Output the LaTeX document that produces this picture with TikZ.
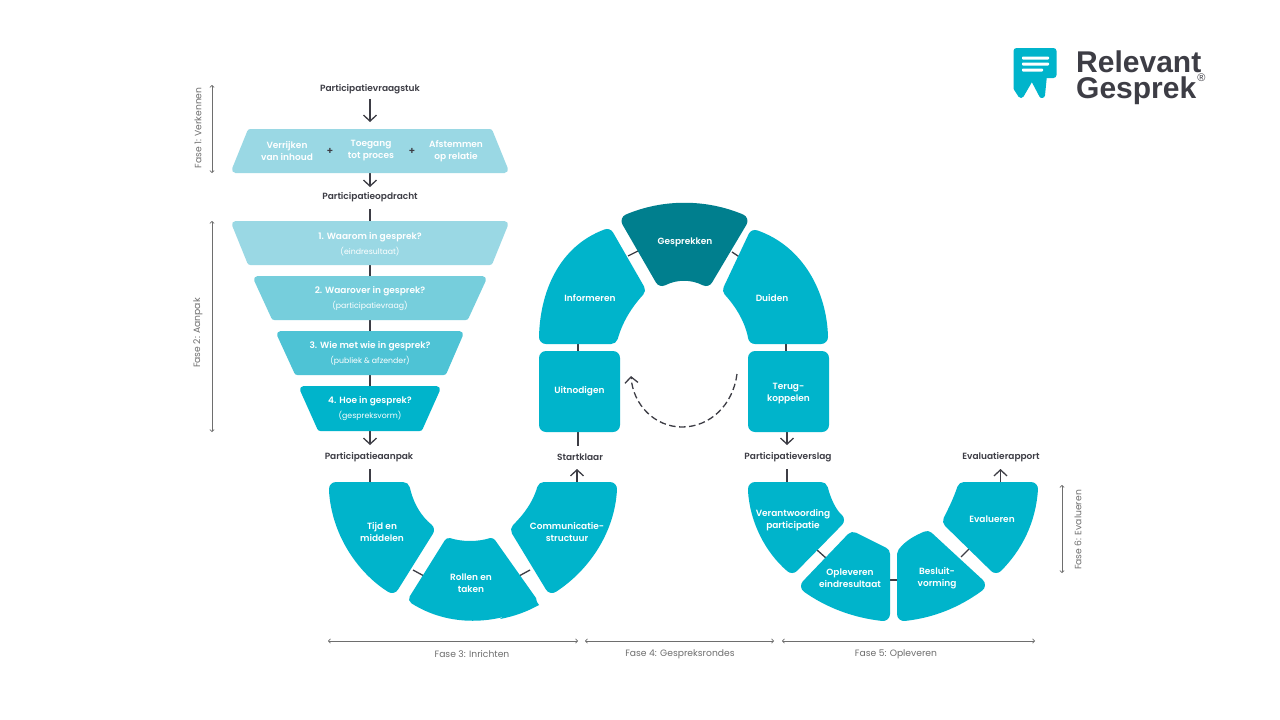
\documentclass[tikz,border=0pt]{standalone}
\usepackage{fontspec}
\setmainfont{Poppins}[BoldFont={Poppins SemiBold}]
\newfontfamily\logofont{Liberation Sans}
\usetikzlibrary{arrows.meta}
\definecolor{teal}{HTML}{00B4CB}
\definecolor{deep}{HTML}{007F8E}
\definecolor{pale}{HTML}{9AD8E4}
\definecolor{mid}{HTML}{76CEDC}
\definecolor{soft}{HTML}{4EC3D5}
\definecolor{ink}{HTML}{3D3D45}
\definecolor{phase}{HTML}{6E6E6E}
\newcommand{\subfont}{\fontsize{7.8}{11}\selectfont\mdseries}
\tikzset{
  x=1pt,y=-1pt,
  blob/.style={fill=#1,draw=#1,line width=14pt,line join=round},
  tightblob/.style={fill=#1,draw=#1,line width=10pt,line join=round},
  trapblob/.style={fill=#1,draw=#1,line width=7pt,line join=round},
  trap/.style={text=white,align=center,inner sep=0pt,font=\fontsize{9}{13}\selectfont\bfseries},
  box/.style={rectangle,rounded corners=7pt,fill=teal,minimum width=81pt,minimum height=81pt,inner sep=0pt,text=white,align=center,font=\fontsize{9}{12}\selectfont\bfseries},
  lab/.style={text=white,align=center,font=\fontsize{9}{12}\selectfont\bfseries,inner sep=0pt,yshift=-1pt},
  stage/.style={text=ink,font=\fontsize{9}{11}\selectfont\bfseries,inner sep=0pt,yshift=-1pt},
  plus/.style={text=ink,font=\fontsize{10}{10}\selectfont\bfseries,inner sep=0pt},
  phasetxt/.style={text=phase,font=\fontsize{9.2}{11}\selectfont,inner sep=0pt},
  link/.style={draw=ink,line width=1.3pt},
  flow/.style={draw=ink,line width=1.3pt,-{Straight Barb[length=6pt,width=13pt,line width=1.3pt]}},
  span/.style={draw=phase,line width=.7pt,{Straight Barb[length=2pt,width=4.5pt]}-{Straight Barb[length=2pt,width=4.5pt]}},
  logotxt/.style={anchor=base west,inner sep=0pt,text=ink,text height=22pt,text depth=0pt,font=\logofont\bfseries\fontsize{30}{30}\selectfont},
}
\begin{document}
\begin{tikzpicture}
\useasboundingbox[fill=white] (0,0) rectangle (1280,720);
% stage labels
\node[stage] (pv) at (370,88) {Participatievraagstuk};
\node[stage] (po) at (370,196) {Participatieopdracht};
\node[stage] (pa) at (369,456) {Participatieaanpak};
\node[stage] (sk) at (580,456) {Startklaar};
\node[stage] (pr) at (788,456) {Participatieverslag};
\node[stage] (er) at (1001,456) {Evaluatierapport};
% funnel connectors
\coordinate (t0in) at (370,122);
\coordinate (t0out) at (370,173);
\coordinate (poin) at (370,187);
\coordinate (poout) at (370,209);
\coordinate (t1top) at (370,223);
\coordinate (t1bot) at (370,263);
\coordinate (t2top) at (370,278);
\coordinate (t2bot) at (370,318);
\coordinate (t3top) at (370,333);
\coordinate (t3bot) at (370,373);
\coordinate (t4top) at (370,388);
\coordinate (t4bot) at (370,430);
\coordinate (paout) at (370,445);
\coordinate (pvout) at (370,99);
\draw[flow] (pvout) -- (t0in);
\draw[flow] (t0out) -- (poin);
\draw[link] (poout) -- (t1top);
\draw[link] (t1bot) -- (t2top);
\draw[link] (t2bot) -- (t3top);
\draw[link] (t3bot) -- (t4top);
\draw[flow] (t4bot) -- (paout);
% funnel
\fill[trapblob=pale] (250.5,132.5) -- (489.5,132.5) -- (504.5,169.5) -- (235.5,169.5) -- cycle;
\fill[trapblob=pale] (235.5,224.5) -- (504.5,224.5) -- (489.5,261.5) -- (250.5,261.5) -- cycle;
\fill[trapblob=mid] (257.5,279.5) -- (482.5,279.5) -- (465.5,316.5) -- (274.5,316.5) -- cycle;
\fill[trapblob=soft] (280.5,334.5) -- (459.5,334.5) -- (443.5,371.5) -- (297.5,371.5) -- cycle;
\fill[trapblob=teal] (303.5,389.5) -- (436.5,389.5) -- (419.5,427.5) -- (320.5,427.5) -- cycle;
\node[lab] (v1) at (287,150) {Verrijken\\van inhoud};
\node[lab] (v2) at (371,150) {Toegang\\tot proces};
\node[lab] (v3) at (456,150) {Afstemmen\\op relatie};
\node[plus] (p1) at (330,151) {+};
\node[plus] (p2) at (412,151) {+};
\node[trap] (t1) at (370,244.5) {1. Waarom in gesprek?\\[2pt]{\subfont (eindresultaat)}};
\node[trap] (t2) at (370,299) {2. Waarover in gesprek?\\[2pt]{\subfont (participatievraag)}};
\node[trap] (t3) at (370,353) {3. Wie met wie in gesprek?\\[2pt]{\subfont (publiek \& afzender)}};
\node[trap] (t4) at (370,409) {4. Hoe in gesprek?\\[2pt]{\subfont (gespreksvorm)}};
% Fase 3 connectors
\coordinate (a1) at (413,570);
\coordinate (a2) at (424,576);
\coordinate (a3) at (519,576);
\coordinate (a4) at (530,570);
\draw[link] (a1) -- (a2);
\draw[link] (a3) -- (a4);
\coordinate (tmtop) at (370,483);
\coordinate (paunder) at (370,469);
\draw[link] (paunder) -- (tmtop);
\coordinate (cstop) at (577,484);
\coordinate (skunder) at (577,469);
\draw[flow] (cstop) -- (skunder);
% Fase 3 shapes
\fill[blob=teal] (336,489) -- (403,489) .. controls (407,507) and (416,521) .. (427,530) -- (392,586) .. controls (366,570) and (339,535) .. (336,491) -- cycle;
\fill[tightblob=teal] (449,543) .. controls (462,547) and (478,547) .. (491,543) -- (532,601) .. controls (495,620) and (450,622) .. (414,599) -- cycle;
\fill[teal] (531.8,594) -- (539,605) .. controls (528,611) and (516,616) .. (500,619) -- cycle;
\fill[blob=teal] (544,489) -- (610,489) .. controls (608,530) and (583,566) .. (552,586) -- (518,530) .. controls (529,519) and (539,506) .. (544,489) -- cycle;
\node[lab] (tm) at (382,531) {Tijd en\\middelen};
\node[lab] (rt) at (471,582) {Rollen en\\taken};
\node[lab] (cs) at (567,531) {Communicatie-\\structuur};
% Fase 4 connectors
\coordinate (b1) at (628,256);
\coordinate (b2) at (638,251);
\coordinate (b3) at (732,252);
\coordinate (b4) at (741,258);
\draw[link] (b1) -- (b2);
\draw[link] (b3) -- (b4);
\coordinate (b5) at (578,341);
\coordinate (b6) at (578,353);
\draw[link] (b5) -- (b6);
\coordinate (b7) at (786,341);
\coordinate (b8) at (786,353);
\draw[link] (b7) -- (b8);
\coordinate (b9) at (578,430);
\coordinate (b10) at (578,446);
\draw[link] (b9) -- (b10);
\coordinate (b11) at (787,430);
\coordinate (b12) at (787,445);
\draw[flow] (b11) -- (b12);
% Fase 4 shapes
\node[box] (un) at (579.5,391.5) {Uitnodigen};
\node[box] (tk) at (788.5,391.5) {\\[-2pt]Terug-\\koppelen};
\fill[blob=teal] (546,337) -- (611,337) .. controls (616,319) and (626,303) .. (638,290) -- (607,236) .. controls (564,252) and (547,295) .. (546,337) -- cycle;
\fill[blob=teal] (755,337) -- (821,337) .. controls (820,295) and (798,252) .. (755,237) -- (730,290) .. controls (742,303) and (752,320) .. (755,337) -- cycle;
\fill[blob=deep] (628.5,221) .. controls (664,206) and (705,206) .. (740.5,221) -- (706,279) .. controls (692,272) and (676,272) .. (662,279) -- cycle;
\node[lab] (ge) at (685,241) {Gesprekken};
\node[lab] (inf) at (590,297) {Informeren};
\node[lab] (du) at (772,297) {Duiden};
\coordinate (dstart) at (737,374);
\coordinate (dmid) at (682,427);
\coordinate (dend) at (631,376);
\draw[draw=ink,line width=1.3pt,dash pattern=on 6.5pt off 3.5pt,-{Straight Barb[length=6pt,width=13pt,line width=1.3pt]}] (dstart) .. controls (733,405) and (710,427) .. (dmid) .. controls (655,427) and (633,405) .. (dend);
% Fase 5 / 6 connectors
\coordinate (c1) at (817,550);
\coordinate (c2) at (826,558);
\coordinate (c3) at (888,580);
\coordinate (c4) at (899,580);
\coordinate (c5) at (961,557);
\coordinate (c6) at (969,549);
\draw[link] (c1) -- (c2);
\draw[link] (c3) -- (c4);
\draw[link] (c5) -- (c6);
\coordinate (c7) at (787,469);
\coordinate (c8) at (787,484);
\draw[link] (c7) -- (c8);
\coordinate (c9) at (1000.5,484);
\coordinate (c10) at (1000.5,469);
\draw[flow] (c9) -- (c10);
% Fase 5 / 6 shapes
\fill[blob=teal] (755,489) -- (821,489) .. controls (824,501) and (830,514) .. (837,520) -- (792,566) .. controls (771,548) and (757,520) .. (755,491) -- cycle;
\fill[blob=teal] (853,539) -- (883,554) -- (883,614) .. controls (855,611) and (829,601) .. (808,586) -- cycle;
\fill[blob=teal] (904,554) .. controls (910,546) and (918,542) .. (927,538) -- (978,585) .. controls (956,601) and (932,611) .. (904,614) -- cycle;
\fill[blob=teal] (964,489) -- (1031,489) .. controls (1029,520) and (1016,546) .. (996,566) -- (950,521) .. controls (955,511) and (960,501) .. (964,489) -- cycle;
\node[lab] (vp) at (793,519) {Verantwoording\\participatie};
\node[lab] (oe) at (850,577) {Opleveren\\eindresultaat};
\node[lab] (bv) at (937,577) {Besluit-\\vorming};
\node[lab] (ev) at (992,518) {Evalueren};
% phase markers
\coordinate (f1a) at (212,85); \coordinate (f1b) at (212,173);
\coordinate (f2a) at (212,221); \coordinate (f2b) at (212,432);
\coordinate (f3a) at (328,641); \coordinate (f3b) at (578,641);
\coordinate (f4a) at (585,641); \coordinate (f4b) at (774,641);
\coordinate (f5a) at (782,641); \coordinate (f5b) at (1035,641);
\coordinate (f6a) at (1062,485); \coordinate (f6b) at (1062,573);
\draw[span] (f1a) -- (f1b);
\draw[span] (f2a) -- (f2b);
\draw[span] (f3a) -- (f3b);
\draw[span] (f4a) -- (f4b);
\draw[span] (f5a) -- (f5b);
\draw[span] (f6a) -- (f6b);
\node[phasetxt,rotate=90] (fl1) at (198,128) {Fase 1: Verkennen};
\node[phasetxt,rotate=90] (fl2) at (198,333) {Fase 2: Aanpak};
\node[phasetxt] (fl3) at (472,654.5) {Fase 3: Inrichten};
\node[phasetxt] (fl4) at (680,654.5) {Fase 4: Gespreksrondes};
\node[phasetxt] (fl5) at (896,654.5) {Fase 5: Opleveren};
\node[phasetxt,rotate=90] (fl6) at (1078,530) {Fase 6: Evalueren};
% logo
\fill[fill=teal,draw=teal,line width=6pt,line join=round] (1016.5,51) -- (1053.5,51) -- (1053.5,75) -- (1044,75) -- (1042,95) -- (1032,76) -- (1021,95) -- (1016.5,88) -- cycle;
\fill[white,rounded corners=.8pt] (1022,56.5) rectangle (1049,59.5);
\fill[white,rounded corners=.8pt] (1022,62.5) rectangle (1049,65.5);
\fill[white,rounded corners=.8pt] (1022,68.5) rectangle (1043,71.5);
\node[logotxt] (lg1) at (1076,72) {Relevant};
\node[logotxt] (lg2) at (1076,98) {Gesprek};
\node[inner sep=0pt,text=ink,font=\logofont\fontsize{11}{11}\selectfont] (lg3) at (1201.5,78) {®};
\end{tikzpicture}
\end{document}
